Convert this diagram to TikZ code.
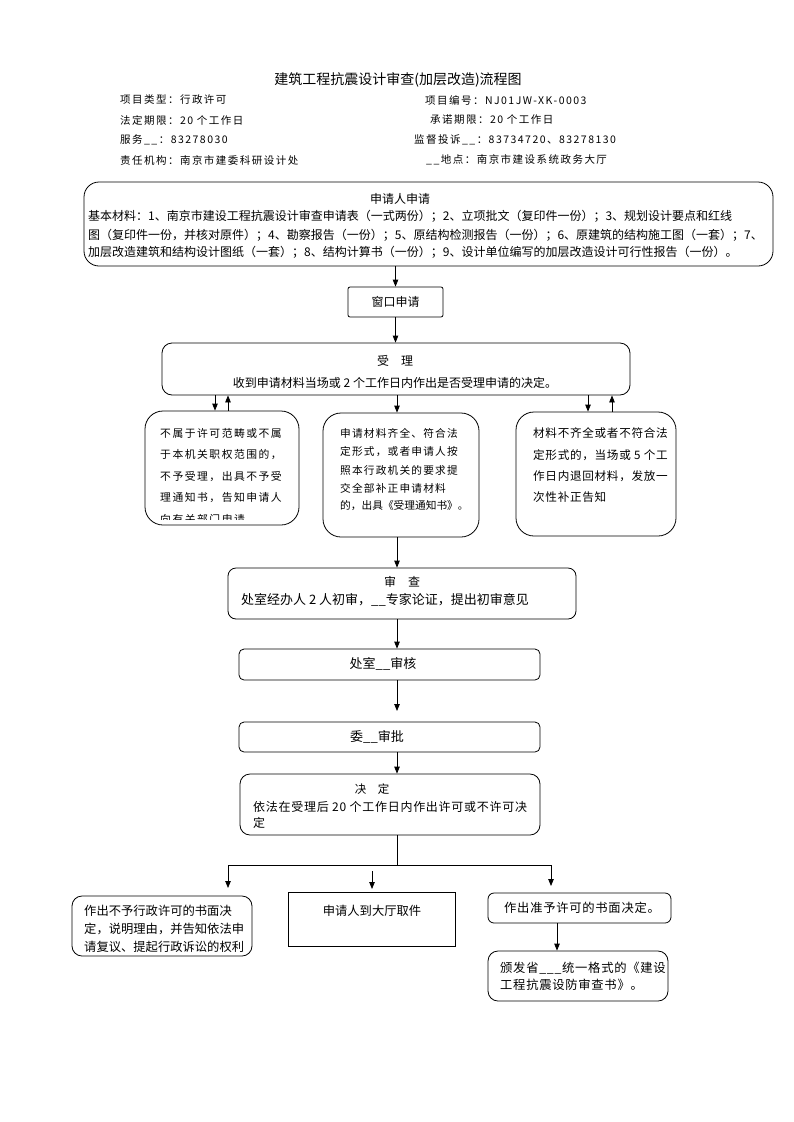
\documentclass[tikz,border=0pt]{standalone}
\usepackage{fontspec}
\setmainfont{Noto Sans CJK SC}
\newfontfamily\cjsp[LetterSpace=14]{Noto Sans CJK SC}
\newfontfamily\cjspm[LetterSpace=11]{Noto Sans CJK SC}
\newfontfamily\cjspb[LetterSpace=6]{Noto Sans CJK SC}
\usetikzlibrary{arrows.meta}
\begin{document}
\begin{tikzpicture}[x=1pt,y=-1pt,
  box/.style={draw, line width=0.8pt, rounded corners=#1, inner sep=0pt},
  box/.default=6pt,
  arr/.style={-{Triangle[length=7pt,width=5.5pt]}, line width=0.8pt},
  ln/.style={line width=0.8pt},
  tl/.style={anchor=west, inner sep=0pt},
  tc/.style={anchor=center, inner sep=0pt},
  hd/.style={tl, font=\cjsp\fontsize{10.5}{12}\selectfont},
  bt/.style={font=\fontsize{12}{14}\selectfont},
  st/.style={font=\cjsp\fontsize{10.8}{12}\selectfont},
  sm/.style={font=\cjspm\fontsize{10.7}{12}\selectfont},
]
\useasboundingbox (0,0) rectangle (793,1122);
\fill[white] (0,0) rectangle (793,1122);

% title and header
\node[tc, font=\fontsize{14}{16}\selectfont] (title) at (398,80) {建筑工程抗震设计审查(加层改造)流程图};
\node[hd] (h1) at (120,100) {项目类型：行政许可};
\node[hd] (h2) at (120,120) {法定期限：20 个工作日};
\node[hd] (h3) at (120,140) {服务\_\_：83278030};
\node[hd] (h4) at (120,160) {责任机构：南京市建委科研设计处};
\node[hd] (h5) at (425,100) {项目编号：NJ01JW-XK-0003};
\node[hd] (h6) at (430,120) {承诺期限：20 个工作日};
\node[hd] (h7) at (414,140) {监督投诉\_\_：83734720、83278130};
\node[hd] (h8) at (426,160) {\_\_地点：南京市建设系统政务大厅};

% application box
\node[box=15pt, minimum width=689pt, minimum height=84pt] (apply) at (428.5,224) {};
\node[tc, bt] (applyt) at (400,199) {申请人申请};
\node[tl, bt] (a1) at (88,216) {基本材料：1、南京市建设工程抗震设计审查申请表（一式两份）；2、立项批文（复印件一份）；3、规划设计要点和红线};
\node[tl, bt] (a2) at (88,235) {图（复印件一份，并核对原件）；4、勘察报告（一份）；5、原结构检测报告（一份）；6、原建筑的结构施工图（一套）；7、};
\node[tl, bt] (a3) at (88,252) {加层改造建筑和结构设计图纸（一套）；8、结构计算书（一份）；9、设计单位编写的加层改造设计可行性报告（一份）。};

% window
\node[box=2pt, minimum width=95pt, minimum height=30pt, bt] (win) at (395.5,302) {窗口申请};
\draw[arr] (win.north |- apply.south) -- (win.north);

% accept
\node[box=10pt, minimum width=468pt, minimum height=52pt] (accept) at (396,369) {};
\node[tc, bt] (acct) at (395,361) {受\quad 理};
\node[tc, font=\fontsize{12}{14}\selectfont] (acct2) at (395,383) {收到申请材料当场或 2 个工作日内作出是否受理申请的决定。};
\draw[arr] (win.south) -- (win.south |- accept.north);

% three result boxes
\node[box=18pt, minimum width=154pt, minimum height=114pt] (left) at (222,468) {};
\node[box=18pt, minimum width=156pt, minimum height=124pt] (mid) at (401,475) {};
\node[box=18pt, minimum width=160pt, minimum height=124pt] (right) at (596,474) {};

\node[tl, st] (l1) at (160,433) {不属于许可范畴或不属};
\node[tl, st] (l2) at (160,455) {于本机关职权范围的，};
\node[tl, st] (l3) at (160,477) {不予受理，出具不予受};
\node[tl, st] (l4) at (160,498) {理通知书，告知申请人};
\begin{scope}
\clip (150,505) rectangle (295,519);
\node[tl, st] (l5) at (160,519) {向有关部门申请};
\end{scope}

\node[tl, sm] (m1) at (340,433) {申请材料齐全、符合法};
\node[tl, sm] (m2) at (340,452) {定形式，或者申请人按};
\node[tl, sm] (m3) at (340,470) {照本行政机关的要求提};
\node[tl, sm] (m4) at (340,488) {交全部补正申请材料};
\node[tl, font=\fontsize{10.7}{12}\selectfont] (m5) at (340,506) {的，出具《受理通知书》。};

\node[tl, font=\cjspb\fontsize{11.6}{13}\selectfont] (r1) at (533,433) {材料不齐全或者不符合法};
\node[tl, font=\cjspb\fontsize{11.6}{13}\selectfont] (r2) at (533,455) {定形式的，当场或 5 个工};
\node[tl, font=\cjspb\fontsize{11.6}{13}\selectfont] (r3) at (533,476) {作日内退回材料，发放一};
\node[tl, font=\cjspb\fontsize{11.6}{13}\selectfont] (r4) at (533,497) {次性补正告知};

\coordinate (xa) at (215,0);
\coordinate (xb) at (228,0);
\coordinate (xc) at (397,0);
\coordinate (xd) at (588,0);
\coordinate (xe) at (612,0);
\draw[arr] (accept.south -| xa) -- (left.north -| xa);
\draw[arr] (left.north -| xb) -- (accept.south -| xb);
\draw[arr] (accept.south -| xc) -- (mid.north -| xc);
\draw[arr] (accept.south -| xd) -- (right.north -| xd);
\draw[arr] (right.north -| xe) -- (accept.south -| xe);

% review
\node[box=8pt, minimum width=348pt, minimum height=51pt] (review) at (402,593.5) {};
\node[tc, bt] (revt) at (402,582) {审\quad 查};
\node[tl, font=\fontsize{13}{15}\selectfont] (revt2) at (241,600) {处室经办人 2 人初审，\_\_专家论证，提出初审意见};
\draw[arr] (mid.south -| xc) -- (review.north -| xc);

% check and approve
\node[box=5pt, minimum width=301pt, minimum height=31pt] (check) at (389.5,664.5) {};
\node[tc, font=\fontsize{13}{15}\selectfont] (checkt) at (383,664) {处室\_\_审核};
\node[box=5pt, minimum width=301pt, minimum height=30pt] (approve) at (389.5,737) {};
\node[tc, font=\fontsize{13}{15}\selectfont] (approvet) at (377,737) {委\_\_审批};
\coordinate (gap) at (397,711);
\draw[arr] (review.south -| xc) -- (check.north -| xc);
\draw[arr] (check.south -| xc) -- (gap);

% decision
\node[box=10pt, minimum width=300pt, minimum height=61pt] (dec) at (390,804.5) {};
\node[tc, font=\fontsize{11.5}{13}\selectfont] (dect) at (372,789) {决\quad 定};
\node[tl, font=\cjspb\fontsize{12}{14}\selectfont] (dec1) at (253,807) {依法在受理后 20 个工作日内作出许可或不许可决};
\node[tl, font=\cjspb\fontsize{12}{14}\selectfont] (dec2) at (253,823) {定};
\draw[arr] (approve.south -| xc) -- (dec.north -| xc);

% branch
\coordinate (jn) at (397,865);
\coordinate (jl) at (228,865);
\coordinate (jr) at (551,865);
\draw[ln] (dec.south -| xc) -- (jn);
\draw[ln] (jl) -- (jr);

\node[box=10pt, minimum width=180pt, minimum height=60pt] (deny) at (162,926) {};
\node[tl, font=\fontsize{12.3}{14}\selectfont] (d1) at (84,911) {作出不予行政许可的书面决};
\node[tl, font=\fontsize{12.3}{14}\selectfont] (d2) at (84,929) {定，说明理由，并告知依法申};
\node[tl, font=\fontsize{12.3}{14}\selectfont] (d3) at (84,947) {请复议、提起行政诉讼的权利};

\node[draw, line width=0.8pt, minimum width=167pt, minimum height=54pt, inner sep=0pt] (pick) at (371.5,919) {};
\node[tc, font=\fontsize{12.3}{14}\selectfont] (pickt) at (372,911) {申请人到大厅取件};

\node[box=6pt, minimum width=183pt, minimum height=30pt] (grant) at (579.5,908) {};
\node[tl, font=\cjspb\fontsize{12.3}{14}\selectfont] (g1) at (504,908) {作出准予许可的书面决定。};

\node[box=10pt, minimum width=180pt, minimum height=50pt] (cert) at (578,976) {};
\node[tl, font=\cjspb\fontsize{12.3}{14}\selectfont] (c1) at (500,968) {颁发省\_\_\_统一格式的《建设};
\node[tl, font=\cjspb\fontsize{12.3}{14}\selectfont] (c2) at (500,985) {工程抗震设防审查书》。};

\coordinate (dl) at (228,888);
\coordinate (mtop) at (372,871);
\coordinate (mbot) at (372,889);
\coordinate (gr) at (551,886);
\draw[arr] (jl) -- (dl);
\draw[arr] (mtop) -- (mbot);
\draw[arr] (jr) -- (gr);
\coordinate (xg) at (557,0);
\draw[arr] (grant.south -| xg) -- (cert.north -| xg);
\end{tikzpicture}
\end{document}
